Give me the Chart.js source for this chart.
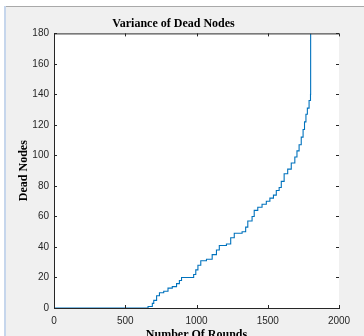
<!DOCTYPE html>
<html>
<head>
<meta charset="utf-8">
<script src="https://cdn.jsdelivr.net/npm/chart.js@4.4.1/dist/chart.umd.min.js"></script>
<style>
  html, body { margin: 0; padding: 0; background: #f0f0f0; }
  #box { width: 364px; height: 336px; }
</style>
</head>
<body>
<div id="box"><canvas id="g_dead"></canvas></div>
<script>
// rounds where the count of dead nodes changes, and the count from that round on
const rounds = [0, 660, 690, 700, 720, 740, 770, 800, 830, 860, 880, 895, 980, 995, 1010, 1030, 1070, 1110, 1140, 1160,
    1210, 1240, 1265, 1320, 1345, 1360, 1390, 1405, 1430, 1460, 1490, 1515, 1540, 1560, 1580, 1595, 1615, 1640,
    1665, 1690, 1705, 1720, 1735, 1748, 1758, 1768, 1778, 1790, 1800, 1801];
const deadNodes = [0, 1, 3, 5, 8, 10, 11, 13, 14, 16, 18, 20, 22, 25, 28, 31, 32, 35, 38, 41,
    42, 46, 49, 50, 53, 57, 60, 64, 66, 68, 70, 72, 74, 77, 79, 83, 88, 91,
    95, 99, 103, 107, 112, 117, 122, 127, 131, 136, 140, 180];
const xTicks = [0, 500, 1000, 1500, 2000];
const yTicks = [0, 20, 40, 60, 80, 100, 120, 140, 160, 180];

const serif = "'Liberation Serif', 'Times New Roman', serif";
const sans = "'Liberation Sans', Arial, sans-serif";

let points = [];
for (let i = 0; i < rounds.length; i++) {
    points.push({ x: rounds[i], y: deadNodes[i] });
}

// fond gris, cadre de la fenetre, zone blanche du graphe
const fondPlugin = {
    id: 'fond',
    beforeDraw(chart) {
        const ctx = chart.ctx;
        const a = chart.chartArea;
        ctx.save();
        ctx.fillStyle = '#f0f0f0';
        ctx.fillRect(0, 0, chart.width, chart.height);
        ctx.fillStyle = '#ffffff';
        ctx.fillRect(0, 0, chart.width, 6);
        ctx.fillRect(0, 0, 4, chart.height);
        ctx.fillStyle = '#a9a9a9';
        ctx.fillRect(4, 6, chart.width - 4, 1);
        ctx.fillStyle = '#c6d6ec';
        ctx.fillRect(4, 6, 2, chart.height - 6);
        ctx.fillStyle = '#ffffff';
        ctx.fillRect(a.left, a.top, a.right - a.left, a.bottom - a.top);
        ctx.restore();
    },
    afterDraw(chart) {
        // ligne du haut + petites graduations vers l'interieur
        const ctx = chart.ctx;
        const a = chart.chartArea;
        const xs = chart.scales.x;
        const ys = chart.scales.y;
        ctx.save();
        ctx.strokeStyle = '#262626';
        ctx.lineWidth = 1;
        ctx.beginPath();
        ctx.moveTo(a.left, a.top + 0.5);
        ctx.lineTo(a.right, a.top + 0.5);
        xTicks.forEach(v => {
            const px = Math.round(xs.getPixelForValue(v)) + 0.5;
            ctx.moveTo(px, a.bottom);
            ctx.lineTo(px, a.bottom - 3);
            ctx.moveTo(px, a.top);
            ctx.lineTo(px, a.top + 3);
        });
        yTicks.forEach(v => {
            const py = Math.round(ys.getPixelForValue(v)) + 0.5;
            ctx.moveTo(a.left, py);
            ctx.lineTo(a.left + 3, py);
            ctx.moveTo(a.right, py);
            ctx.lineTo(a.right - 3, py);
        });
        ctx.stroke();
        ctx.restore();
    }
};

let context = document.getElementById('g_dead').getContext('2d');
let config = {
    type: 'scatter',
    data: {
        datasets: [{
            label: 'Dead Nodes',
            data: points,
            showLine: true,
            stepped: true,
            borderColor: '#0072bd',
            borderWidth: 1.1,
            pointRadius: 0,
            fill: false
        }]
    },
    options: {
        responsive: false,
        animation: false,
        devicePixelRatio: 1,
        layout: { padding: { left: 8, right: 25, top: 0, bottom: 0 } },
        plugins: {
            legend: { display: false },
            tooltip: { enabled: false },
            title: {
                display: true,
                text: 'Variance of Dead Nodes',
                color: '#000000',
                font: { family: serif, size: 12, weight: 'bold' },
                padding: { top: 17, bottom: 2 }
            }
        },
        scales: {
            x: {
                type: 'linear',
                min: 0,
                max: 2000,
                afterFit: s => { s.height = 28; },
                afterBuildTicks: s => { s.ticks = xTicks.map(v => ({ value: v })); },
                grid: { display: false, drawTicks: false },
                border: { color: '#262626', width: 1 },
                ticks: {
                    color: '#262626', padding: 7, maxRotation: 0,
                    font: { family: sans, size: 10 },
                    callback: v => String(v)
                },
                title: {
                    display: true,
                    text: 'Number Of Rounds',
                    color: '#000000',
                    font: { family: serif, size: 12, weight: 'bold' },
                    padding: { top: 0, bottom: -6 }
                }
            },
            y: {
                type: 'linear',
                min: 0,
                max: 180,
                afterFit: s => { s.width = 46; },
                afterBuildTicks: s => { s.ticks = yTicks.map(v => ({ value: v })); },
                grid: { display: false, drawTicks: false },
                border: { color: '#262626', width: 1 },
                ticks: {
                    color: '#262626', padding: 5,
                    font: { family: sans, size: 10 },
                    callback: v => String(v)
                },
                title: {
                    display: true,
                    text: 'Dead Nodes',
                    color: '#000000',
                    font: { family: serif, size: 12, weight: 'bold' },
                    padding: { top: 9, bottom: 0 }
                }
            }
        }
    },
    plugins: [fondPlugin]
};
const canvas = document.getElementById('g_dead');
canvas.width = 364;
canvas.height = 336;
let gDead = new Chart(context, config);
</script>
</body>
</html>
